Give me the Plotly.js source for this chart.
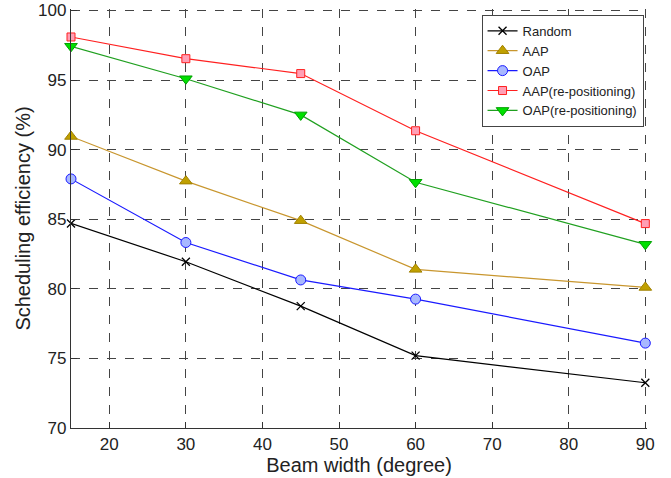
<!DOCTYPE html>
<html>
<head>
<meta charset="utf-8">
<script src="https://cdn.plot.ly/plotly-3.0.1.min.js"></script>
<style>html,body{margin:0;padding:0;background:#fff;}#chart{width:671px;height:478px;}</style>
</head>
<body>
<div id="chart"></div>
<script>
const beamWidth = [15, 30, 45, 60, 90];
const randomVals = [84.7, 81.95, 78.76, 75.2, 73.25];
const aapVals = [90.95, 87.74, 84.9, 81.4, 80.1];
const oapVals = [87.9, 83.33, 80.64, 79.26, 76.1];
const aapRepoVals = [98.1, 96.54, 95.47, 91.36, 84.69];
const oapRepoVals = [97.43, 95.1, 92.5, 87.66, 83.2];
const seriesNames = ["Random", "AAP", "OAP", "AAP(re-positioning)", "OAP(re-positioning)"];

const traces = [
  {x: beamWidth, y: randomVals, name: seriesNames[0], mode: "lines+markers", cliponaxis: false,
   line: {color: "#000000", width: 1.2},
   marker: {symbol: "x-thin", size: 8, line: {color: "#000000", width: 1.3}}},
  {x: beamWidth, y: aapVals, name: seriesNames[1], mode: "lines+markers", cliponaxis: false,
   line: {color: "#c8962e", width: 1.2},
   marker: {symbol: "triangle-up", size: 11, color: "#c0a000", line: {color: "#a08000", width: 1}}},
  {x: beamWidth, y: oapVals, name: seriesNames[2], mode: "lines+markers", cliponaxis: false,
   line: {color: "#1a1aff", width: 1.2},
   marker: {symbol: "circle", size: 10, color: "#a8b8ff", line: {color: "#1a1aff", width: 1}}},
  {x: beamWidth, y: aapRepoVals, name: seriesNames[3], mode: "lines+markers", cliponaxis: false,
   line: {color: "#ff2020", width: 1.2},
   marker: {symbol: "square", size: 8, color: "#ff9fb5", line: {color: "#ff2020", width: 1}}},
  {x: beamWidth, y: oapRepoVals, name: seriesNames[4], mode: "lines+markers", cliponaxis: false,
   line: {color: "#20a020", width: 1.2},
   marker: {symbol: "triangle-down", size: 11, color: "#00e000", line: {color: "#00a000", width: 1}}}
];

const font = "Liberation Sans, Arial, sans-serif";
const layout = {
  width: 671, height: 478,
  margin: {l: 71, r: 24, t: 9, b: 50},
  paper_bgcolor: "#ffffff", plot_bgcolor: "#ffffff",
  font: {family: font, color: "#222222"},
  showlegend: true,
  legend: {x: 0.994, y: 0.986, xanchor: "right", yanchor: "top",
           bgcolor: "#ffffff", bordercolor: "#444444", borderwidth: 1,
           font: {family: font, size: 13, color: "#222222"}, tracegroupgap: 0},
  xaxis: {
    range: [15, 90.22], tick0: 10, dtick: 10, tickmode: "linear",
    showgrid: true, gridcolor: "#444444", griddash: "dash", gridwidth: 1,
    showline: true, linecolor: "#333333", linewidth: 1.2,
    ticks: "inside", ticklen: 6, tickcolor: "#333333",
    zeroline: false,
    tickfont: {family: font, size: 17, color: "#222222"},
    title: {text: "Beam width (degree)", font: {family: font, size: 20, color: "#222222"}, standoff: 1}
  },
  yaxis: {
    range: [70, 100.11], tick0: 70, dtick: 5, tickmode: "linear",
    showgrid: true, gridcolor: "#444444", griddash: "dash", gridwidth: 1,
    showline: true, linecolor: "#333333", linewidth: 1.2,
    ticks: "inside", ticklen: 6, tickcolor: "#333333",
    zeroline: false,
    tickfont: {family: font, size: 17, color: "#222222"},
    title: {text: "Scheduling efficiency (%)", font: {family: font, size: 20, color: "#222222"}, standoff: 2}
  }
};

Plotly.newPlot("chart", traces, layout, {displayModeBar: false, staticPlot: true});
</script>
</body>
</html>
